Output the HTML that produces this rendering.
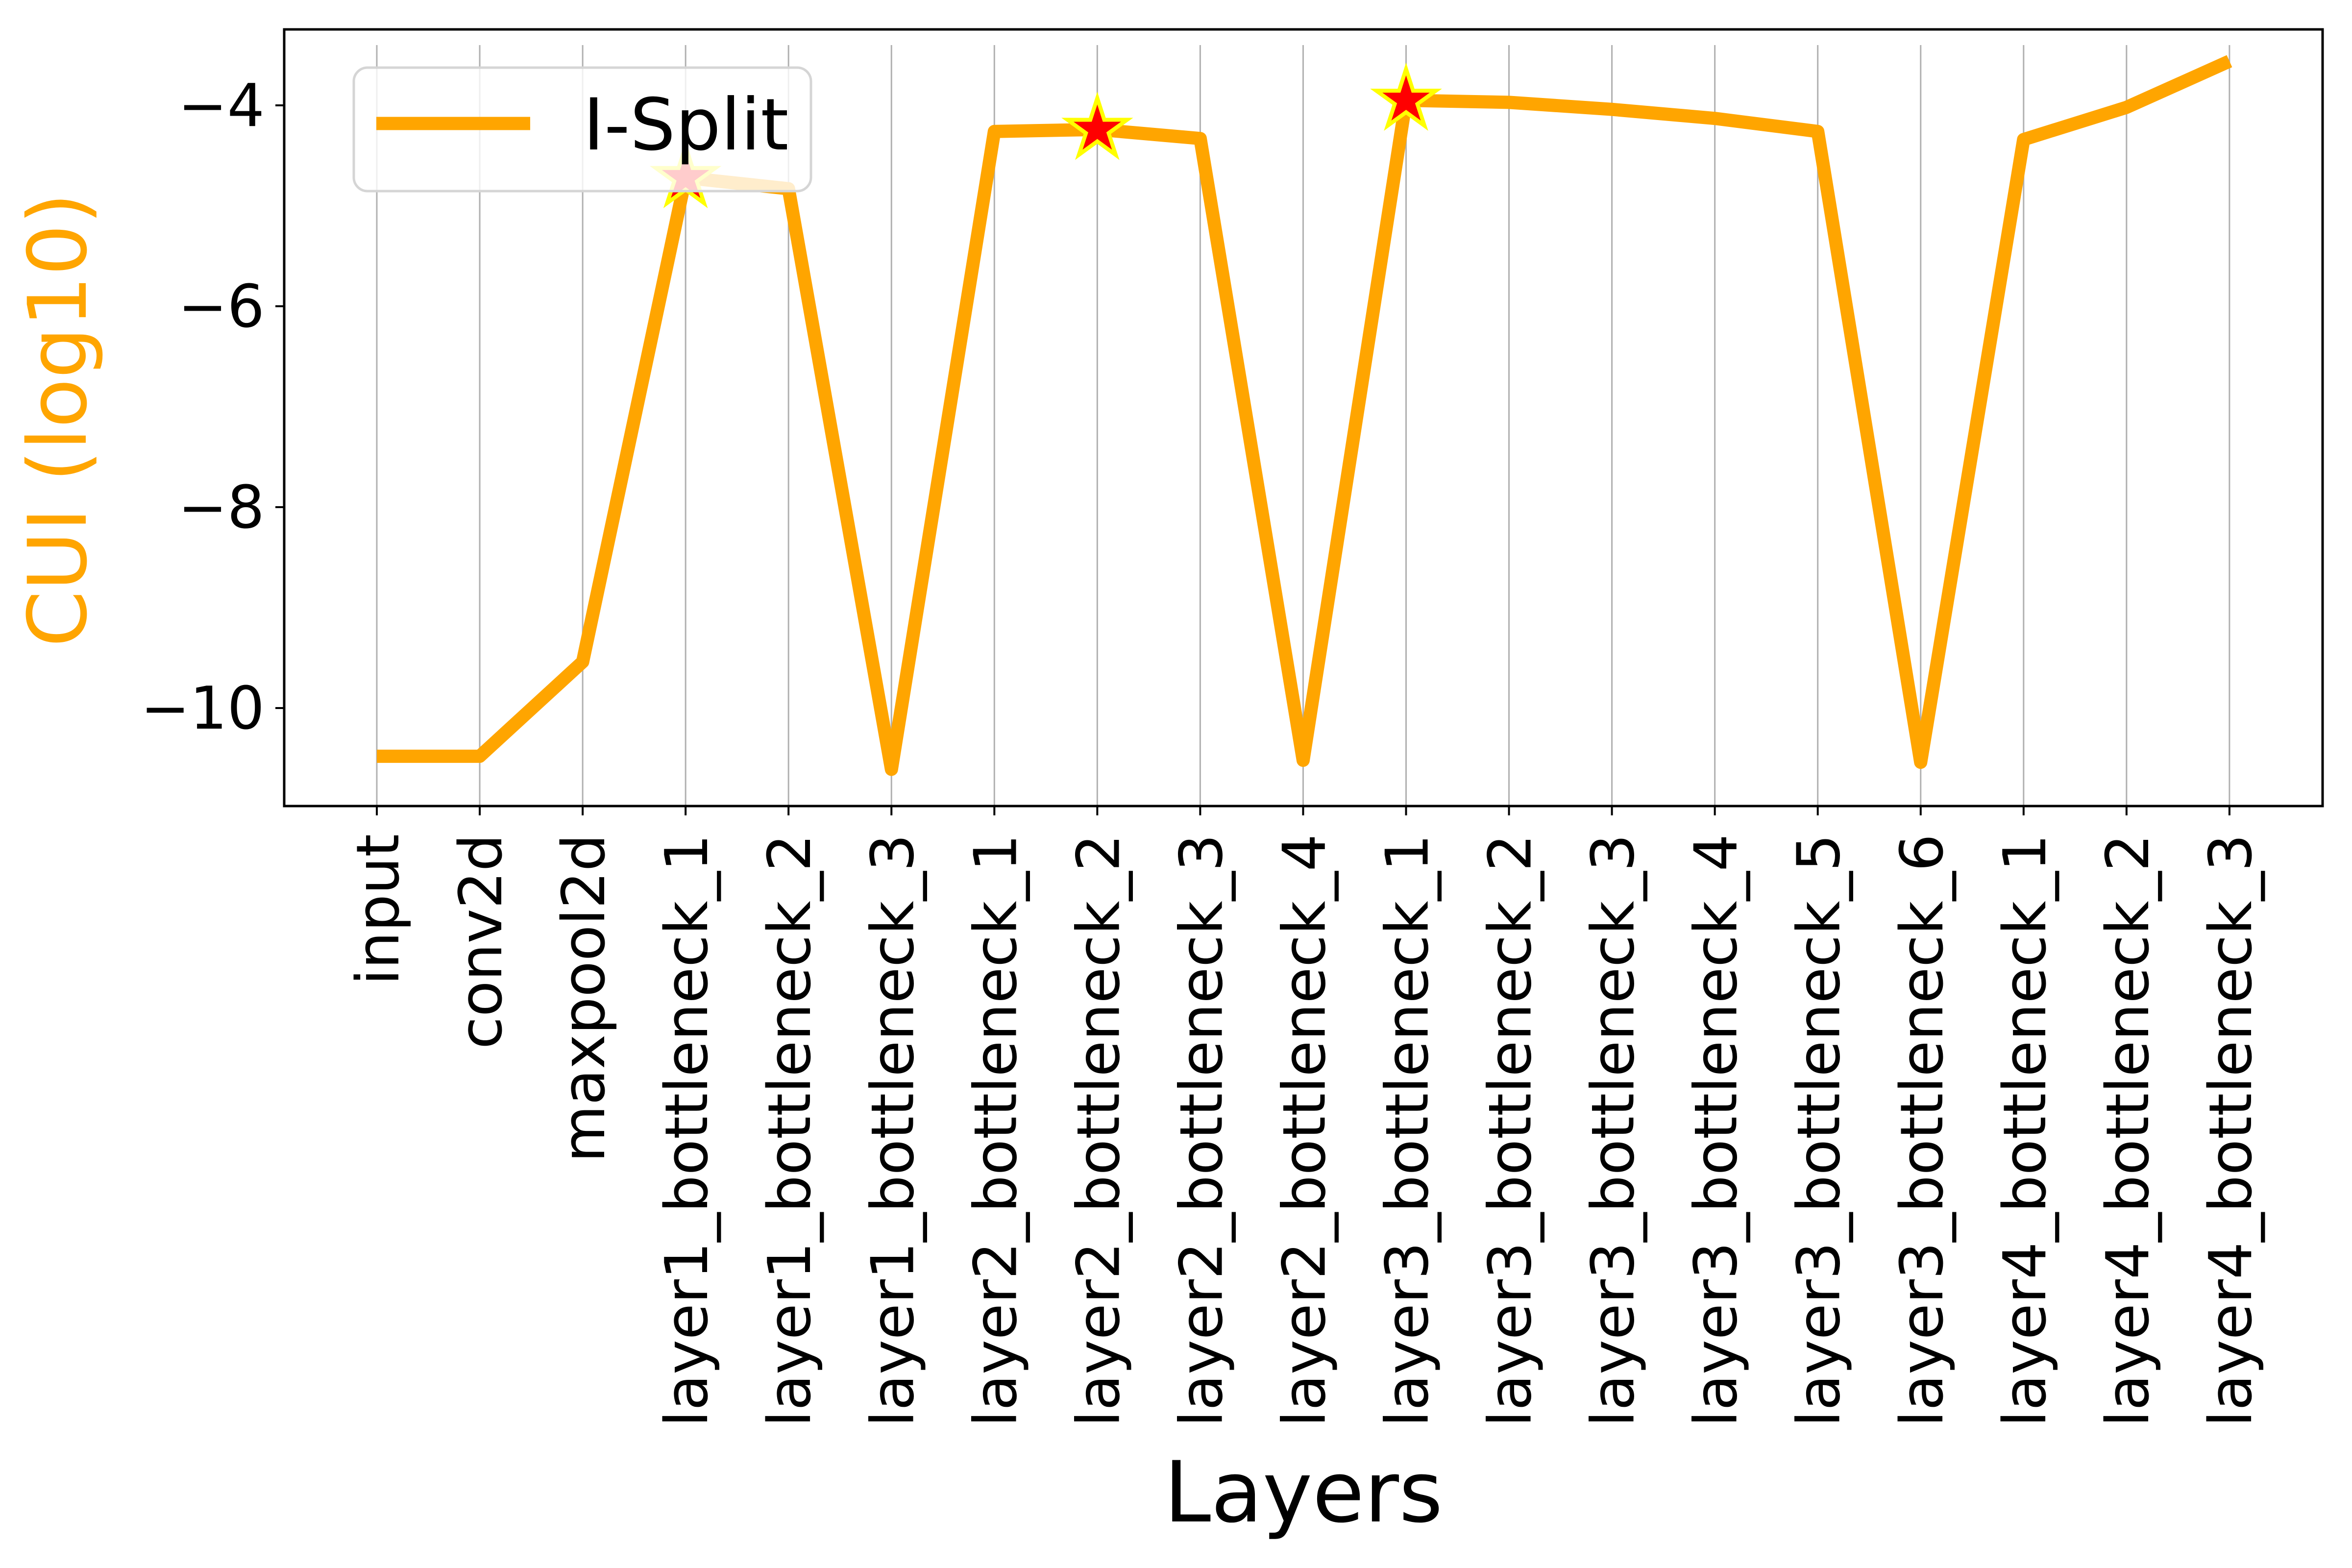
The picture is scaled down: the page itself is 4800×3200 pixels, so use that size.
<!DOCTYPE html>
<html><head><meta charset="utf-8"><style>
html,body{margin:0;padding:0;background:#fff;}
svg{display:block;font-family:"DejaVu Sans","Liberation Sans",sans-serif;}
</style></head><body>
<svg id="chart" width="4800" height="3200" viewBox="0 0 4800 3200" xmlns="http://www.w3.org/2000/svg">
<rect x="0" y="0" width="4800" height="3200" fill="#fff"/>
<g id="grid"></g>
<g id="series"></g>
<g id="stars"></g>
<g id="legend">
  <rect x="722" y="138" width="933" height="252" rx="28" ry="28" fill="#fff" fill-opacity="0.8" stroke="#d5d5d5" stroke-width="5"/>
  <line x1="768" y1="252" x2="1082" y2="252" stroke="#ffa500" stroke-width="27"/>
  <text x="1190" y="305" font-size="146" fill="#000">I-Split</text>
</g>
<rect x="580" y="60" width="4160" height="1585" fill="none" stroke="#000" stroke-width="5"/>
<g id="yticks"></g>
<g id="xticks"></g>
<text transform="translate(175,857) rotate(-90)" text-anchor="middle" font-size="165" fill="#ffa500">CUI (log10)</text>
<text x="2660" y="3105" text-anchor="middle" font-size="172" fill="#000">Layers</text>
</svg>
<script>
const categories = ["input","conv2d","maxpool2d","layer1_bottleneck_1","layer1_bottleneck_2","layer1_bottleneck_3","layer2_bottleneck_1","layer2_bottleneck_2","layer2_bottleneck_3","layer2_bottleneck_4","layer3_bottleneck_1","layer3_bottleneck_2","layer3_bottleneck_3","layer3_bottleneck_4","layer3_bottleneck_5","layer3_bottleneck_6","layer4_bottleneck_1","layer4_bottleneck_2","layer4_bottleneck_3"];
const cuiValues = [-10.48,-10.48,-9.54,-4.72,-4.83,-10.61,-4.26,-4.24,-4.33,-10.52,-3.95,-3.97,-4.04,-4.13,-4.26,-10.54,-4.34,-4.02,-3.56];
const splitPoints = ["layer1_bottleneck_1","layer2_bottleneck_2","layer3_bottleneck_1"];
const yTicks = [-10,-8,-6,-4];

const NS = "http://www.w3.org/2000/svg";
const X0 = 769, XSTEP = 210.05;
const yScale = v => 215 - (v + 4) * 205;
const xScale = i => X0 + i * XSTEP;
function mk(tag, attrs, parent) {
  const e = document.createElementNS(NS, tag);
  for (const k in attrs) e.setAttribute(k, attrs[k]);
  parent.appendChild(e);
  return e;
}
const grid = document.getElementById('grid');
const xt = document.getElementById('xticks');
categories.forEach((c, i) => {
  const x = xScale(i);
  const g = mk('line', {x1: x, y1: 92, x2: x, y2: 1645, stroke: '#b0b0b0', 'stroke-width': 3}, grid);
  
  
  const t = mk('line', {x1: x, y1: 1645, x2: x, y2: 1664, stroke: '#000', 'stroke-width': 4}, xt);
  
  
  const lb = mk('text', {transform: `translate(${x + 44},1702) rotate(-90)`, 'text-anchor': 'end', 'font-size': 120, fill: '#000'}, xt);
  lb.textContent = c;
  
  
});
const yt = document.getElementById('yticks');
yTicks.forEach(v => {
  const y = yScale(v);
  const t = mk('line', {x1: 562, y1: y, x2: 580, y2: y, stroke: '#000', 'stroke-width': 4}, yt);
  
  
  const lb = mk('text', {x: 540, y: y + 42, 'text-anchor': 'end', 'font-size': 120, fill: '#000'}, yt);
  lb.textContent = '\u2212' + Math.abs(v);
  
  
});
const pts = cuiValues.map((v, i) => xScale(i) + ',' + yScale(v)).join(' ');
const line = mk('polyline', {points: pts, fill: 'none', stroke: '#ffa500', 'stroke-width': 27, 'stroke-linejoin': 'round'}, document.getElementById('series'));


const stars = document.getElementById('stars');
function starPts(cx, cy, R) {
  const r = R * 0.38, a = [];
  for (let k = 0; k < 10; k++) {
    const ang = -Math.PI / 2 + k * Math.PI / 5, rr = k % 2 ? r : R;
    a.push((cx + rr * Math.cos(ang)).toFixed(1) + ',' + (cy + rr * Math.sin(ang)).toFixed(1));
  }
  return a.join(' ');
}
splitPoints.forEach(name => {
  const i = categories.indexOf(name);
  const s = mk('polygon', {points: starPts(xScale(i), yScale(cuiValues[i]), 64), fill: 'red', stroke: 'yellow', 'stroke-width': 8}, stars);
  
  
});
</script>
</body></html>
